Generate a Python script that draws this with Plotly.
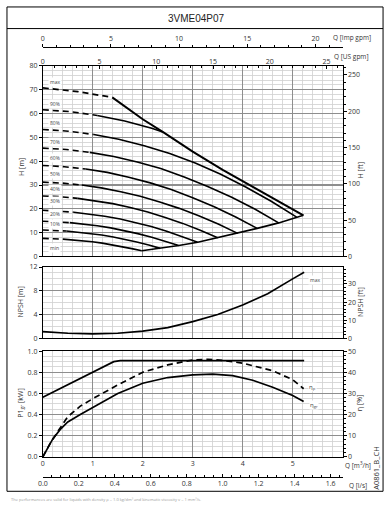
import plotly.graph_objects as go

# ---------------- data ----------------
# H-Q curves, Q in m3/h, H in m
max_dash_q = [0.0, 0.7, 1.39]
max_dash_h = [70.8, 69.2, 66.8]
max_q = [1.39, 1.7, 2.0, 2.4, 3.0, 3.6, 4.2, 4.7, 5.215]
max_h = [66.8, 62.0, 57.6, 52.3, 44.0, 36.4, 29.3, 23.2, 17.3]

q_90 = [0.0, 0.55, 1.09, 1.64, 2.18, 2.4]
h_90 = [61.6, 60.8, 59.2, 56.9, 53.8, 52.3]
q_80 = [0.0, 0.51, 1.02, 1.52, 2.03, 2.54, 3.05, 3.56, 4.06, 4.57, 5.08]
h_80 = [53.3, 52.6, 51.2, 49.2, 46.5, 43.2, 39.2, 34.5, 29.2, 23.2, 16.5]
q_70 = [0.0, 0.47, 0.94, 1.42, 1.89, 2.36, 2.83, 3.30, 3.78, 4.25, 4.72]
h_70 = [45.5, 44.9, 43.7, 42.0, 39.7, 36.9, 33.4, 29.4, 24.9, 19.8, 14.1]
q_60 = [0.0, 0.43, 0.86, 1.29, 1.72, 2.15, 2.57, 3.00, 3.43, 3.86, 4.29]
h_60 = [38.2, 37.7, 36.7, 35.3, 33.3, 30.9, 28.1, 24.7, 20.9, 16.6, 11.8]
q_50 = [0.0, 0.39, 0.78, 1.17, 1.56, 1.95, 2.34, 2.73, 3.12, 3.51, 3.90]
h_50 = [31.2, 30.8, 30.0, 28.8, 27.2, 25.3, 22.9, 20.2, 17.1, 13.6, 9.7]
q_40 = [0.0, 0.35, 0.70, 1.05, 1.40, 1.75, 2.10, 2.45, 2.80, 3.15, 3.50]
h_40 = [25.4, 25.1, 24.4, 23.4, 22.2, 20.6, 18.7, 16.4, 13.9, 11.0, 7.9]
q_30 = [0.0, 0.31, 0.62, 0.93, 1.24, 1.55, 1.86, 2.17, 2.48, 2.79, 3.10]
h_30 = [19.4, 19.1, 18.6, 17.9, 16.9, 15.7, 14.3, 12.6, 10.6, 8.4, 6.0]
q_20 = [0.0, 0.27, 0.54, 0.82, 1.09, 1.36, 1.63, 1.90, 2.18, 2.45, 2.72]
h_20 = [14.8, 14.6, 14.2, 13.7, 12.9, 12.0, 10.9, 9.6, 8.1, 6.4, 4.6]
q_10 = [0.0, 0.235, 0.47, 0.71, 0.94, 1.18, 1.41, 1.65, 1.88, 2.12, 2.35]
h_10 = [11.1, 11.0, 10.7, 10.2, 9.7, 9.0, 8.2, 7.2, 6.1, 4.8, 3.4]
q_min = [0.0, 0.2, 0.4, 0.59, 0.79, 0.99, 1.19, 1.39, 1.58, 1.78, 1.98]
h_min = [7.6, 7.5, 7.3, 7.0, 6.6, 6.2, 5.6, 4.9, 4.2, 3.3, 2.4]

# lower limit (end points of the speed curves)
limit_q = [1.98, 2.35, 2.72, 3.10, 3.50, 3.90, 4.29, 4.72, 5.08, 5.215]
limit_h = [2.4, 3.4, 4.6, 6.0, 7.9, 9.7, 11.8, 14.1, 16.5, 17.3]

speed_names = ["max", "90%", "80%", "70%", "60%", "50%", "40%", "30%", "20%", "10%", "min"]
speed_label_h = [73.3, 63.9, 56.1, 48.2, 41.4, 34.5, 28.2, 23.1, 17.7, 13.5, 3.6]

# NPSH
npsh_q = [0.0, 0.5, 1.0, 1.5, 2.0, 2.5, 3.0, 3.5, 4.0, 4.5, 5.0, 5.23]
npsh_m = [1.13, 0.85, 0.75, 0.85, 1.2, 1.8, 2.8, 4.0, 5.6, 7.5, 10.0, 11.1]

# Power P1 [kW]
p1_q = [0.0, 1.42, 1.55, 2.0, 3.0, 4.0, 5.23]
p1_kw = [0.563, 0.90, 0.91, 0.91, 0.91, 0.91, 0.91]

# efficiencies [%]
etap_q = [0.0, 0.15, 0.3, 0.5, 0.75, 1.0, 1.5, 2.0, 2.5, 3.0, 3.3, 3.6, 4.0, 4.6, 5.0, 5.22]
etap = [0.0, 6.5, 12.0, 19.0, 24.0, 27.5, 34.0, 40.0, 43.5, 45.8, 46.1, 45.6, 44.3, 40.7, 36.5, 32.2]
etagr_q = [0.0, 0.1, 0.2, 0.35, 0.5, 0.75, 1.0, 1.5, 2.0, 2.5, 3.0, 3.4, 3.8, 4.2, 4.6, 5.0, 5.22]
etagr = [0.0, 4.0, 8.5, 13.0, 16.5, 20.0, 23.2, 30.0, 34.8, 37.5, 38.8, 39.1, 38.4, 36.2, 32.9, 29.0, 26.2]

# ---------------- layout helpers ----------------
FW, FH = 387, 511
def fx(p): return p / FW
def fy(p): return 1 - p / FH

X_DOM = [fx(38.3), fx(342.0)]
H_DOM = [fy(256.0), fy(62.0)]
N_DOM = [fy(339.3), fy(266.7)]
P_DOM = [fy(460.0), fy(352.3)]

Q_RANGE = [0, 5.999]
M3H_TO_IMP = 3.6662
M3H_TO_US = 4.4029
M3H_TO_LS = 1 / 3.6
M_TO_FT = 3.28084

MAJ = "#8e8e8e"
MIN = "#d0d0d0"
FONT = "Open Sans"
TF = dict(family=FONT, size=7, color="#333333")
INK = "black"

fig = go.Figure()

def line(q, h, xa, ya, dash="solid", width=1.6):
    fig.add_trace(go.Scatter(x=q, y=h, xaxis=xa, yaxis=ya, mode="lines",
                             line=dict(color=INK, width=width, dash=dash),
                             showlegend=False, hoverinfo="skip"))

DASH = "6px,4px"

# H curves
line(max_dash_q, max_dash_h, "x", "y", DASH, 1.7)
line(max_q, max_h, "x", "y", "solid", 2.0)
for q, h in [(q_90, h_90), (q_80, h_80), (q_70, h_70), (q_60, h_60), (q_50, h_50),
             (q_40, h_40), (q_30, h_30), (q_20, h_20), (q_10, h_10), (q_min, h_min)]:
    line(q[:3], h[:3], "x", "y", DASH, 1.6)
    line(q[2:], h[2:], "x", "y", "solid", 1.6)
line(limit_q, limit_h, "x", "y", "solid", 1.6)

# NPSH
line(npsh_q, npsh_m, "x2", "y3", "solid", 1.7)

# power and efficiencies
line(p1_q, p1_kw, "x3", "y5", "solid", 1.7)
line(etap_q, etap, "x3", "y6", DASH, 1.7)
line(etagr_q, etagr, "x3", "y6", "solid", 1.7)

# dummy traces so secondary axes are drawn
for xa, ya in [("x", "y2"), ("x2", "y4"), ("x4", "y"), ("x5", "y"), ("x6", "y5")]:
    fig.add_trace(go.Scatter(x=[None], y=[None], xaxis=xa, yaxis=ya, mode="lines",
                             showlegend=False, hoverinfo="skip"))

def qaxis(anchor, labels):
    return dict(domain=X_DOM, range=Q_RANGE, anchor=anchor, dtick=1, tick0=0,
                showticklabels=labels, tickfont=TF, ticks="", zeroline=False,
                showgrid=True, gridcolor=MAJ, gridwidth=1.2,
                minor=dict(dtick=0.2, showgrid=True, gridcolor=MIN, gridwidth=0.8),
                showline=True, linecolor=INK, linewidth=1, mirror=True)

def yleft(domain, anchor, rng, dtick, minor_dtick, fmt=None):
    d = dict(domain=domain, range=rng, anchor=anchor, dtick=dtick, tick0=0,
             tickfont=TF, ticks="outside", ticklen=3, tickcolor=INK, zeroline=False,
             showgrid=True, gridcolor=MAJ, gridwidth=1.2,
             minor=dict(dtick=minor_dtick, showgrid=True, gridcolor=MIN, gridwidth=0.8),
             showline=True, linecolor=INK, linewidth=1, mirror=True)
    if fmt:
        d["tickformat"] = fmt
    return d

def yright(over, anchor, rng, dtick, minor_dtick):
    return dict(overlaying=over, side="right", anchor=anchor, range=rng, dtick=dtick, tick0=0,
                tickfont=TF, ticks="outside", ticklen=3, tickcolor=INK, showgrid=False,
                zeroline=False, showline=True, linecolor=INK, linewidth=1,
                minor=dict(dtick=minor_dtick, ticks="outside", ticklen=2, tickcolor=INK))

fig.update_layout(
    width=FW, height=FH, margin=dict(l=0, r=0, t=0, b=0),
    paper_bgcolor="white", plot_bgcolor="white", showlegend=False,
    hovermode=False,
    xaxis=qaxis("y", False),
    yaxis=yleft(H_DOM, "x", [0, 80], 10, 2),
    yaxis2=yright("y", "x", [0, 80 * M_TO_FT], 50, 10),
    xaxis2=qaxis("y3", False),
    yaxis3=yleft(N_DOM, "x2", [0, 12], 4, 1),
    yaxis4=yright("y3", "x2", [0, 12 * M_TO_FT], 10, 2),
    xaxis3=qaxis("y5", True),
    yaxis5=yleft(P_DOM, "x3", [0, 1.0], 0.2, 0.05, ".1f"),
    yaxis6=yright("y5", "x3", [0, 50], 10, 2),
    xaxis4=dict(overlaying="x", anchor="free", position=fy(42.7), side="top",
                range=[0, Q_RANGE[1] * M3H_TO_IMP], dtick=5, tick0=0, tickfont=TF,
                ticks="outside", ticklen=3, tickcolor=INK, showgrid=False, zeroline=False,
                showline=True, linecolor=INK, linewidth=1,
                minor=dict(dtick=1, ticks="outside", ticklen=2, tickcolor=INK)),
    xaxis5=dict(overlaying="x", anchor="y", side="top",
                range=[0, Q_RANGE[1] * M3H_TO_US], dtick=5, tick0=0, tickfont=TF,
                ticks="inside", ticklen=3, tickcolor=INK, showgrid=False, zeroline=False,
                showline=False,
                minor=dict(dtick=1, ticks="inside", ticklen=2, tickcolor=INK)),
    xaxis6=dict(overlaying="x3", anchor="free", position=fy(480.0), side="bottom",
                range=[0, Q_RANGE[1] * M3H_TO_LS], dtick=0.2, tick0=0, tickformat=".1f",
                tickfont=TF, ticks="inside", ticklen=3, tickcolor=INK, showgrid=False,
                zeroline=False, showline=True, linecolor=INK, linewidth=1,
                minor=dict(dtick=0.05, ticks="inside", ticklen=2, tickcolor=INK)),
)

ann = []
def txt(x, y, s, size=7, angle=0, color="#333333", family=FONT, bg=None, xanchor="center"):
    a = dict(x=fx(x), y=fy(y), xref="paper", yref="paper", text=s, showarrow=False,
             textangle=angle, xanchor=xanchor, yanchor="middle",
             font=dict(family=family, size=size, color=color))
    if bg:
        a["bgcolor"] = bg
        a["borderpad"] = 0
    ann.append(a)

txt(193.5, 14, "3VME04P07", size=10, family="Liberation Sans", color="#222222")
txt(16, 165, "H [m]", angle=-90)
txt(360, 168, "H [ft]", angle=-90)
txt(16, 302, "NPSH [m]", angle=-90)
txt(360, 302, "NPSH [ft]", angle=-90)
txt(16, 405, "P1<sub>gr</sub> [kW]", angle=-90)
txt(360, 405, "η [%]", angle=-90)
txt(330, 33, "Q [Imp gpm]", size=6.5, xanchor="left")
txt(331, 52, "Q [US gpm]", size=6.5, xanchor="left")
txt(342, 468, "Q [m<sup>3</sup>/h]", size=6.5, xanchor="left")
txt(346, 489, "Q [l/s]", size=6.5, xanchor="left")
txt(376, 471, "A0861_B_CH", size=7.5, angle=-90)
txt(4, 503, "The performances are valid for liquids with density ρ = 1.0 kg/dm³ and kinematic viscosity ν = 1 mm²/s.",
    size=4, color="#9a9a9a", xanchor="left")

fig.update_layout(annotations=ann)

# speed labels in H plot
for name, hl in zip(speed_names, speed_label_h):
    fig.add_annotation(x=0.24, y=hl, xref="x", yref="y", text=name, showarrow=False,
                       font=dict(family=FONT, size=5, color="#444444"), bgcolor="white", borderpad=1)
fig.add_annotation(x=5.45, y=9.8, xref="x2", yref="y3", text="max", showarrow=False,
                   font=dict(family=FONT, size=5, color="#444444"), bgcolor="white", borderpad=1)
fig.add_annotation(x=5.4, y=33, xref="x3", yref="y6", text="η<sub>p</sub>", showarrow=False,
                   font=dict(family=FONT, size=6, color="#444444"), bgcolor="white", borderpad=0)
fig.add_annotation(x=5.42, y=24.7, xref="x3", yref="y6", text="η<sub>gr</sub>", showarrow=False,
                   font=dict(family=FONT, size=6, color="#444444"), bgcolor="white", borderpad=0)

# frame and title separator
fig.add_shape(type="rect", xref="paper", yref="paper", x0=fx(2), x1=fx(383), y0=fy(495), y1=fy(2),
              line=dict(color=INK, width=1))
fig.add_shape(type="line", xref="paper", yref="paper", x0=fx(2), x1=fx(383), y0=fy(24), y1=fy(24),
              line=dict(color=INK, width=1))

fig.write_html("out.html", post_script="document.body.style.margin='0';",
               config={"displayModeBar": False, "staticPlot": True})
